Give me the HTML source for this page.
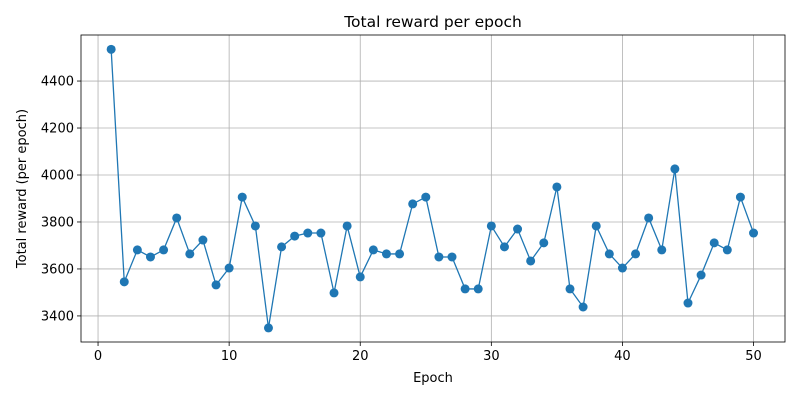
<!DOCTYPE html>
<html><head><meta charset="utf-8"><style>
body{margin:0;background:#fff;font-family:"Liberation Sans","DejaVu Sans",sans-serif;}
svg text{font-family:"DejaVu Sans","Liberation Sans",sans-serif;}
</style></head><body>
<svg id="chart" width="800" height="400"></svg>
<script>
const epochs = Array.from({length:50},(_,i)=>i+1);
const rewards = [4535,3545,3681,3651,3681,3817,3664,3723,3532,3604,3906,3783,3349,3694,3740,3753,3753,3498,3783,3566,3681,3664,3664,3877,3906,3651,3651,3515,3515,3783,3694,3770,3634,3711,3949,3515,3438,3783,3664,3604,3664,3817,3681,4026,3455,3574,3711,3681,3906,3753];
const xTicks = [0,10,20,30,40,50];
const yTicks = [3400,3600,3800,4000,4200,4400];
const L=81,R=785,T=35,B=342;
const xMin=-1.3,xMax=52.4,yMin=3289,yMax=4596;
const X=v=>L+(v-xMin)/(xMax-xMin)*(R-L);
const Y=v=>B-(v-yMin)/(yMax-yMin)*(B-T);
const NS="http://www.w3.org/2000/svg";
const svg=document.getElementById('chart');
function mk(tag,attrs,parent){const e=document.createElementNS(NS,tag);for(const k in attrs)e.setAttribute(k,attrs[k]);(parent||svg).appendChild(e);return e;}
xTicks.forEach(t=>{
  const g=mk('line',{x1:X(t),x2:X(t),y1:T,y2:B,stroke:'#b0b0b0','stroke-width':0.8});
  
  
  mk('line',{x1:X(t),x2:X(t),y1:B,y2:B+4,stroke:'#000','stroke-width':0.8});
  const tx=mk('text',{x:X(t),y:B+18,'font-size':13,'text-anchor':'middle'});tx.textContent=t;
  
  
});
yTicks.forEach(t=>{
  const g=mk('line',{x1:L,x2:R,y1:Y(t),y2:Y(t),stroke:'#b0b0b0','stroke-width':0.8});
  
  
  mk('line',{x1:L-4,x2:L,y1:Y(t),y2:Y(t),stroke:'#000','stroke-width':0.8});
  const tx=mk('text',{x:L-7,y:Y(t)+4.5,'font-size':13,'text-anchor':'end'});tx.textContent=t;
  
  
});
const pts=epochs.map((e,i)=>X(e)+','+Y(rewards[i])).join(' ');
const line=mk('polyline',{points:pts,fill:'none',stroke:'#1f77b4','stroke-width':1.3});


epochs.forEach((e,i)=>{
  const c=mk('circle',{cx:X(e),cy:Y(rewards[i]),r:4.5,fill:'#1f77b4'});
  
  
});
const frame=mk('rect',{x:L,y:T,width:R-L,height:B-T,fill:'none',stroke:'#000','stroke-width':0.8});


const title=mk('text',{x:(L+R)/2,y:27,'font-size':15.5,'text-anchor':'middle'});title.textContent='Total reward per epoch';


const xl=mk('text',{x:(L+R)/2,y:382,'font-size':13,'text-anchor':'middle'});xl.textContent='Epoch';


const yl=mk('text',{x:26,y:(T+B)/2,'font-size':13,'text-anchor':'middle',transform:`rotate(-90 26 ${(T+B)/2})`});yl.textContent='Total reward (per epoch)';


</script>
</body></html>
